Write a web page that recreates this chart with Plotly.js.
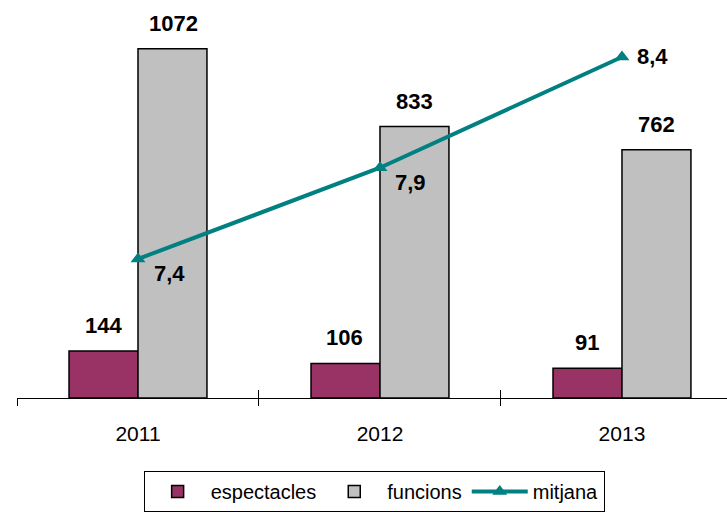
<!DOCTYPE html>
<html>
<head>
<meta charset="utf-8">
<script src="https://cdn.plot.ly/plotly-3.0.1.min.js"></script>
<style>html,body{margin:0;padding:0;background:#fff;}#chart{width:727px;height:512px;}</style>
</head>
<body>
<div id="chart"></div>
<script>
const years = ["2011", "2012", "2013"];
const espectacles = [144, 106, 91];
const funcions = [1072, 833, 762];
const mitjana = [7.44, 7.86, 8.37];
const mitjanaLabels = ["7,4", "7,9", "8,4"];

const FONT = "Liberation Sans, Arial, sans-serif";

const traces = [
  {type: "bar", name: "espectacles", x: years, y: espectacles,
   marker: {color: "#993366", line: {color: "#000", width: 1.5}}, hoverinfo: "skip"},
  {type: "bar", name: "funcions", x: years, y: funcions,
   marker: {color: "#C0C0C0", line: {color: "#000", width: 1.5}}, hoverinfo: "skip"},
  {type: "scatter", mode: "lines+markers", name: "mitjana", x: years, y: mitjana,
   xaxis: "x2", yaxis: "y2",
   line: {color: "#008080", width: 4},
   marker: {symbol: "triangle-up", size: 13, color: "#008080"}, hoverinfo: "skip"}
];

const labelFont = {family: FONT, size: 22, color: "#000", weight: 700};
const annotations = [];
years.forEach((yr, i) => {
  annotations.push({x: i, y: espectacles[i], xref: "x", yref: "y", text: String(espectacles[i]),
    showarrow: false, xshift: -35, yanchor: "bottom", yshift: 11, font: labelFont});
  annotations.push({x: i, y: funcions[i], xref: "x", yref: "y", text: String(funcions[i]),
    showarrow: false, xshift: 35, yanchor: "bottom", yshift: 11, font: labelFont});
  const last = i === years.length - 1;
  annotations.push({x: i, y: mitjana[i], xref: "x", yref: "y2", text: mitjanaLabels[i],
    showarrow: false, xshift: 31, yshift: last ? 0 : -15, font: labelFont});
});

const xr = [-0.5, 2.434];
const layout = {
  width: 727, height: 512,
  margin: {l: 17, r: 0, t: 7, b: 113, pad: 0},
  paper_bgcolor: "#fff", plot_bgcolor: "#fff",
  font: {family: FONT, size: 21, color: "#000"},
  barmode: "group", bargap: 0.43, bargroupgap: 0,
  showlegend: true,
  xaxis: {type: "category", range: xr, showline: true, linecolor: "#000", linewidth: 1,
    ticks: "outside", ticklen: 7, tickcolor: "#000", tickwidth: 1, tickson: "boundaries",
    showgrid: false, zeroline: false, ticklabelstandoff: 17,
    tickfont: {family: FONT, size: 21, color: "#000"}},
  xaxis2: {type: "category", range: xr, overlaying: "x", anchor: "y", showline: false,
    ticks: "inside", ticklen: 8, tickcolor: "#000", tickwidth: 1, tickson: "boundaries",
    showticklabels: false, showgrid: false, zeroline: false},
  yaxis: {range: [0, 1200], visible: false, showgrid: false, zeroline: false},
  yaxis2: {range: [6.8, 8.6], overlaying: "y", side: "right", visible: false, showgrid: false, zeroline: false},
  legend: {orientation: "h", x: 0.503, xanchor: "center", y: -0.186, yanchor: "top",
    bordercolor: "#000", borderwidth: 1, bgcolor: "#fff",
    font: {family: FONT, size: 20, color: "#000"}, itemwidth: 56, tracegroupgap: 0},
  annotations: annotations
};

Plotly.newPlot("chart", traces, layout, {displayModeBar: false}).catch(e => {
  document.body.insertAdjacentHTML("beforeend", "<pre>" + e + "</pre>");
});
</script>
</body>
</html>
